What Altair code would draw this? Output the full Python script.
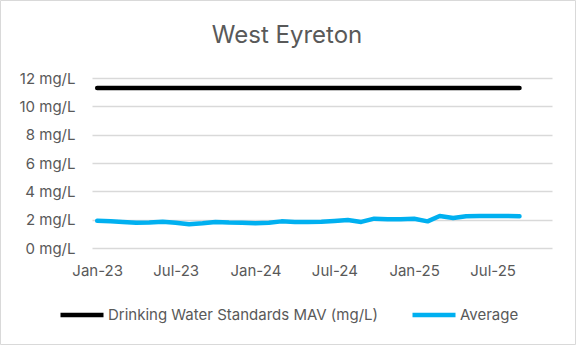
import altair as alt
import pandas as pd

months = [
    "2023-01", "2023-02", "2023-03", "2023-04", "2023-05", "2023-06",
    "2023-07", "2023-08", "2023-09", "2023-10", "2023-11", "2023-12",
    "2024-01", "2024-02", "2024-03", "2024-04", "2024-05", "2024-06",
    "2024-07", "2024-08", "2024-09", "2024-10", "2024-11", "2024-12",
    "2025-01", "2025-02", "2025-03", "2025-04", "2025-05", "2025-06",
    "2025-07", "2025-08", "2025-09",
]
average = [
    1.92, 1.88, 1.84, 1.79, 1.80, 1.85, 1.78, 1.67, 1.74, 1.84, 1.80, 1.79,
    1.74, 1.79, 1.88, 1.84, 1.84, 1.86, 1.91, 1.98, 1.84, 2.07, 2.03, 2.03,
    2.07, 1.88, 2.26, 2.12, 2.24, 2.26, 2.26, 2.26, 2.24,
]
mav_value = 11.3
series_names = ["Drinking Water Standards MAV (mg/L)", "Average"]
series_colors = ["#000000", "#00B0F0"]
tick_dates = ["2023-01", "2023-07", "2024-01", "2024-07", "2025-01", "2025-07"]
chart_title = "West Eyreton"

rows = []
for m in months:
    rows.append({"date": m + "-01T00:00:00", "value": mav_value, "series": series_names[0]})
for m, v in zip(months, average):
    rows.append({"date": m + "-01T00:00:00", "value": v, "series": series_names[1]})
df = pd.DataFrame(rows)

FONT = "Inter"
GREY = "#595959"

tick_values = [alt.DateTime(year=int(t[:4]), month=int(t[5:7]), date=1) for t in tick_dates]

lines = alt.Chart(df).mark_line(strokeWidth=4.5, strokeCap="round", strokeJoin="round").encode(
    x=alt.X(
        "date:T",
        title=None,
        scale=alt.Scale(domain=[alt.DateTime(year=2022, month=12, date=20),
                                alt.DateTime(year=2025, month=11, date=15)]),
        axis=alt.Axis(values=tick_values, format="%b-%y", grid=False, ticks=False,
                      domain=False, labelPadding=15, labelFontSize=15,
                      labelColor=GREY, labelFont=FONT),
    ),
    y=alt.Y(
        "value:Q",
        title=None,
        scale=alt.Scale(domain=[0, 12], nice=False),
        axis=alt.Axis(values=[0, 2, 4, 6, 8, 10, 12], labelExpr="datum.value + ' mg/L'",
                      grid=True, gridColor="#D9D9D9", gridWidth=1.3, ticks=False,
                      domain=False, labelPadding=17, labelFontSize=15,
                      labelColor=GREY, labelFont=FONT),
    ),
    color=alt.Color(
        "series:N",
        scale=alt.Scale(domain=series_names, range=series_colors),
        sort=series_names,
        legend=alt.Legend(
            title=None, orient="none", legendX=-34, legendY=213, direction="horizontal",
            symbolType="stroke", symbolSize=1849, symbolStrokeWidth=4.5,
            labelFontSize=15, labelColor=GREY, labelFont=FONT, labelOffset=2,
            labelLimit=0, columnPadding=25,
        ),
    ),
    order=alt.Order("date:T"),
)

border = alt.Chart(alt.Data(values=[{}])).mark_rect(
    fill="transparent", stroke="#D9D9D9", strokeWidth=1
).encode(
    x=alt.value(-91.5), x2=alt.value(483.5), y=alt.value(-77.5), y2=alt.value(266.5)
)

title_text = alt.Chart(alt.Data(values=[{"t": chart_title}])).mark_text(
    font=FONT, fontSize=24, color=GREY, align="center", baseline="alphabetic"
).encode(
    text="t:N", x=alt.value(195), y=alt.value(-35)
)

chart = alt.layer(border, lines, title_text).properties(
    width=460,
    height=170,
    padding={"left": 92, "top": 78, "right": 24, "bottom": 97},
    autosize="none",
    background="white",
).configure_view(stroke=None)

chart.save("out.html", embed_options={"renderer": "svg", "actions": False})
